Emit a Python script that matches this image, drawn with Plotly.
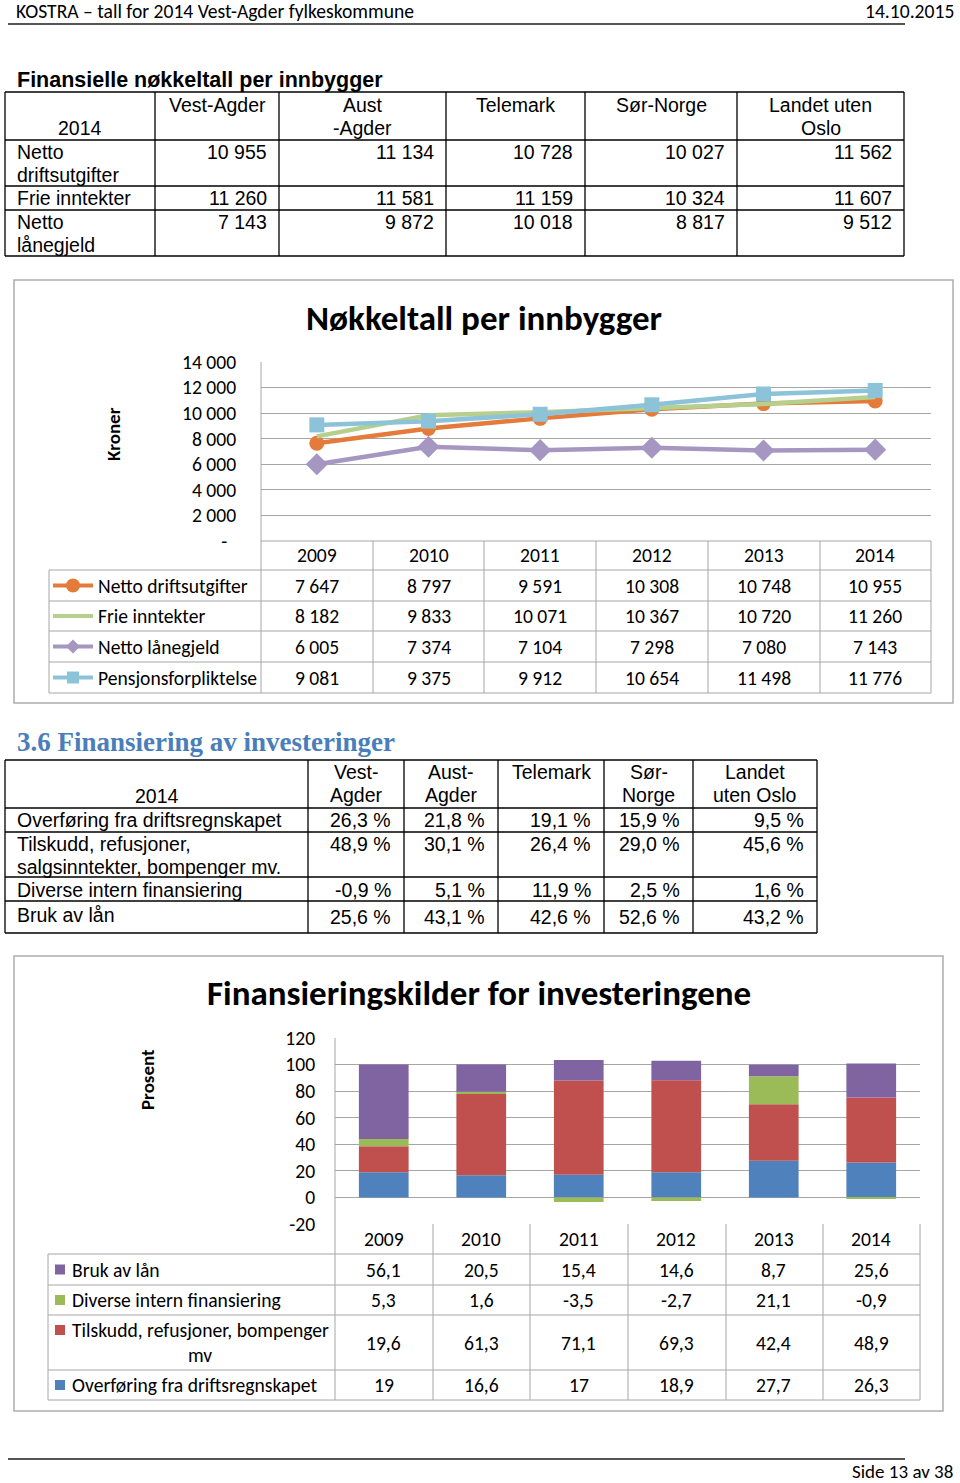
import plotly.graph_objects as go

W, H = 960, 1483

# ---------------- data ----------------
header_left = "KOSTRA – tall for 2014 Vest-Agder fylkeskommune"
header_right = "14.10.2015"
footer_text = "Side 13 av 38"

# Table 1
t1_title = "Finansielle nøkkeltall per innbygger"
t1_corner = "2014"
t1_cols = [["Vest-Agder"], ["Aust", "-Agder"], ["Telemark"], ["Sør-Norge"], ["Landet uten", "Oslo"]]
t1_rows = [["Netto", "driftsutgifter"], ["Frie inntekter"], ["Netto", "lånegjeld"]]
t1_vals = [[10955, 11134, 10728, 10027, 11562],
           [11260, 11581, 11159, 10324, 11607],
           [7143, 9872, 10018, 8817, 9512]]

# Chart 1
years = [2009, 2010, 2011, 2012, 2013, 2014]
c1_title = "Nøkkeltall per innbygger"
c1_ytitle = "Kroner"
netto_drift = [7647, 8797, 9591, 10308, 10748, 10955]
frie_inntekter = [8182, 9833, 10071, 10367, 10720, 11260]
netto_laanegjeld = [6005, 7374, 7104, 7298, 7080, 7143]
pensjon = [9081, 9375, 9912, 10654, 11498, 11776]
c1_names = ["Netto driftsutgifter", "Frie inntekter", "Netto lånegjeld", "Pensjonsforpliktelse"]
c1_ticks = [0, 2000, 4000, 6000, 8000, 10000, 12000, 14000]

# Section + table 2
section_title = "3.6 Finansiering av investeringer"
t2_corner = "2014"
t2_cols = [["Vest-", "Agder"], ["Aust-", "Agder"], ["Telemark"], ["Sør-", "Norge"], ["Landet", "uten Oslo"]]
t2_rows = [["Overføring fra driftsregnskapet"], ["Tilskudd, refusjoner,", "salgsinntekter, bompenger mv."],
           ["Diverse intern finansiering"], ["Bruk av lån"]]
t2_vals = [[26.3, 21.8, 19.1, 15.9, 9.5],
           [48.9, 30.1, 26.4, 29.0, 45.6],
           [-0.9, 5.1, 11.9, 2.5, 1.6],
           [25.6, 43.1, 42.6, 52.6, 43.2]]

# Chart 2
c2_title = "Finansieringskilder for investeringene"
c2_ytitle = "Prosent"
overforing = [19, 16.6, 17, 18.9, 27.7, 26.3]
tilskudd = [19.6, 61.3, 71.1, 69.3, 42.4, 48.9]
diverse = [5.3, 1.6, -3.5, -2.7, 21.1, -0.9]
bruk_av_laan = [56.1, 20.5, 15.4, 14.6, 8.7, 25.6]
c2_names = ["Overføring fra driftsregnskapet", "Tilskudd, refusjoner, bompenger mv",
            "Diverse intern finansiering", "Bruk av lån"]
c2_ticks = [-20, 0, 20, 40, 60, 80, 100, 120]

# ---------------- styling ----------------
CAL = "Carlito, Lato, sans-serif"
ARI = "Liberation Sans, Arial, sans-serif"
SER = "Liberation Serif, DejaVu Serif, serif"
GRID = "#A6A6A6"
c1_colors = ["#E47B3A", "#B6CF8D", "#A597C2", "#8CC3D9"]
c2_colors = ["#4F81BD", "#C0504D", "#9BBB59", "#8064A2"]
FS_C = 19.6   # Calibri-like text
FS_A = 19.5   # Arial-like text


def X(px):
    return px / W


def Y(py):
    return 1 - py / H


shapes = []
ann = []


def hline(x0, x1, y, color="#000000", w=1):
    shapes.append(dict(type="line", xref="paper", yref="paper", x0=X(x0), x1=X(x1),
                       y0=Y(y), y1=Y(y), line=dict(color=color, width=w), layer="above"))


def vline(x, y0, y1, color="#000000", w=1):
    shapes.append(dict(type="line", xref="paper", yref="paper", x0=X(x), x1=X(x),
                       y0=Y(y0), y1=Y(y1), line=dict(color=color, width=w), layer="above"))


def rect(x0, y0, x1, y1, color, fill="rgba(0,0,0,0)", w=1):
    shapes.append(dict(type="rect", xref="paper", yref="paper", x0=X(x0), x1=X(x1),
                       y0=Y(y0), y1=Y(y1), line=dict(color=color, width=w), fillcolor=fill, layer="above"))


def txt(x, y, s, size, family, xanchor="left", color="#000000", weight="normal", xref="paper", angle=0):
    ann.append(dict(text=s, x=(X(x) if xref == "paper" else x), y=Y(y), xref=xref, yref="paper",
                    xanchor=xanchor, yanchor="middle", showarrow=False, textangle=angle,
                    font=dict(size=size, family=family, color=color, weight=weight)))


def fmt_int(v):
    return f"{v:,}".replace(",", " ")


def fmt_pct(v):
    return f"{v:.1f}".replace(".", ",") + " %"


def fmt_dec(v):
    return f"{v:g}".replace(".", ",")


# ---------------- page header/footer ----------------
txt(14, 11, header_left, FS_C, CAL)
txt(956, 11, header_right, FS_C, CAL, xanchor="right")
hline(8, 905, 24, "#555555", 2)
hline(8, 905, 1459, "#555555", 2)
txt(955, 1471, footer_text, 19, CAL, xanchor="right")

# ---------------- table 1 ----------------
txt(15, 80, t1_title, 21.5, ARI, weight="bold")
t1_x = [5, 155, 279, 446, 585, 737, 904]
t1_y = [92, 140, 186, 210, 256]
for yy in t1_y:
    hline(5, 904, yy, "#000000", 1.3)
for xx in t1_x:
    vline(xx, 92, 256, "#000000", 1.3)
txt((t1_x[0] + t1_x[1]) / 2, 128, t1_corner, FS_A, ARI, xanchor="center")
for j, lines in enumerate(t1_cols):
    cx = (t1_x[j + 1] + t1_x[j + 2]) / 2
    for k, line in enumerate(lines):
        txt(cx, 105 + 23 * k, line, FS_A, ARI, xanchor="center")
for i, lines in enumerate(t1_rows):
    top = t1_y[i + 1] + 12
    for k, line in enumerate(lines):
        txt(15, top + 23 * k, line, FS_A, ARI)
    for j, v in enumerate(t1_vals[i]):
        txt(t1_x[j + 2] - 10, top, fmt_int(v), FS_A, ARI, xanchor="right")

# ---------------- chart 1 ----------------
rect(14, 280, 953, 703, "#ADADAD", w=1.5)
txt(484, 318, c1_title, 35, CAL, xanchor="center", weight="bold")
txt(114, 434, c1_ytitle, 19, CAL, xanchor="center", weight="bold", angle=-90)

c1_x = [261, 373, 484, 596, 708, 820, 931]
c1_y = [541, 570, 601, 631, 662, 693]
hline(261, 931, 541, GRID)
for yy in c1_y[1:]:
    hline(49, 931, yy, GRID)
for xx in c1_x:
    vline(xx, 541, 693, GRID)
vline(261, 362, 541, GRID)
vline(49, 570, 693, GRID)

for yr in years:
    txt(yr, 555, str(yr), FS_C, CAL, xanchor="center", xref="x")
series1 = [netto_drift, frie_inntekter, netto_laanegjeld, pensjon]
for i, (name, vals) in enumerate(zip(c1_names, series1)):
    cy = (c1_y[i + 1] + c1_y[i + 2]) / 2
    txt(96, cy, name, FS_C, CAL)
    for yr, v in zip(years, vals):
        txt(yr, cy, fmt_int(v), FS_C, CAL, xanchor="center", xref="x")
    # legend key line
    shapes.append(dict(type="line", xref="paper", yref="paper", x0=X(53), x1=X(93), y0=Y(cy), y1=Y(cy),
                       line=dict(color=c1_colors[i], width=4), layer="above"))

# legend key markers
cy0 = (c1_y[1] + c1_y[2]) / 2
shapes.append(dict(type="circle", xref="paper", yref="paper", x0=X(66), x1=X(80), y0=Y(cy0 - 7), y1=Y(cy0 + 7),
                   fillcolor=c1_colors[0], line=dict(width=0), layer="above"))
cy2 = (c1_y[3] + c1_y[4]) / 2
shapes.append(dict(type="path", xref="paper", yref="paper",
                   path=f"M {X(73)},{Y(cy2 - 7)} L {X(80)},{Y(cy2)} L {X(73)},{Y(cy2 + 7)} L {X(66)},{Y(cy2)} Z",
                   fillcolor=c1_colors[2], line=dict(width=0), layer="above"))
cy3 = (c1_y[4] + c1_y[5]) / 2
shapes.append(dict(type="rect", xref="paper", yref="paper", x0=X(67), x1=X(79), y0=Y(cy3 - 6), y1=Y(cy3 + 6),
                   fillcolor=c1_colors[3], line=dict(width=0), layer="above"))

# ---------------- section + table 2 ----------------
txt(15, 742, section_title, 27, SER, color="#4A7EBB", weight="bold")
t2_x = [5, 308, 404, 498, 604, 693, 817]
t2_y = [760, 808, 832, 877, 901, 933]
for yy in t2_y:
    hline(5, 817, yy, "#000000", 1.3)
for xx in t2_x:
    vline(xx, 760, 933, "#000000", 1.3)
txt((t2_x[0] + t2_x[1]) / 2, 796, t2_corner, FS_A, ARI, xanchor="center")
for j, lines in enumerate(t2_cols):
    cx = (t2_x[j + 1] + t2_x[j + 2]) / 2
    for k, line in enumerate(lines):
        txt(cx, 772 + 23 * k, line, FS_A, ARI, xanchor="center")
t2_row_y = [820, 844, 890, 915]
for i, lines in enumerate(t2_rows):
    for k, line in enumerate(lines):
        txt(15, t2_row_y[i] + 23 * k, line, FS_A, ARI)
    for j, v in enumerate(t2_vals[i]):
        txt(t2_x[j + 2] - 11, t2_row_y[i] + (2 if i == 3 else 0), fmt_pct(v), FS_A, ARI, xanchor="right")

# ---------------- chart 2 ----------------
rect(14, 956, 943, 1411, "#ADADAD", w=1.5)
txt(479, 993, c2_title, 35, CAL, xanchor="center", weight="bold")
txt(147, 1080, c2_ytitle, 19, CAL, xanchor="center", weight="bold", angle=-90)

c2_x = [335, 433, 530, 628, 726, 823, 920]
c2_y = [1224, 1254, 1285, 1315, 1370, 1400]
for yy in c2_y[1:]:
    hline(48, 920, yy, GRID)
for xx in c2_x:
    vline(xx, 1224, 1400, GRID)
vline(335, 1038, 1224, GRID)
vline(48, 1254, 1400, GRID)

for yr in years:
    txt(yr, 1239, str(yr), FS_C, CAL, xanchor="center", xref="x2")

series2 = [overforing, tilskudd, diverse, bruk_av_laan]
table2_order = [3, 2, 1, 0]  # table lists top stack first
for r, si in enumerate(table2_order):
    cy = (c2_y[r + 1] + c2_y[r + 2]) / 2
    ky = 1330 if si == 1 else cy
    shapes.append(dict(type="rect", xref="paper", yref="paper", x0=X(55), x1=X(65), y0=Y(ky - 5), y1=Y(ky + 5),
                       fillcolor=c2_colors[si], line=dict(width=0), layer="above"))
    if si == 1:
        txt(70, 1330, "Tilskudd, refusjoner, bompenger", FS_C, CAL)
        txt(200, 1355, "mv", FS_C, CAL, xanchor="center")
    else:
        txt(70, cy, c2_names[si], FS_C, CAL)
    for yr, v in zip(years, series2[si]):
        txt(yr, cy, fmt_dec(v), FS_C, CAL, xanchor="center", xref="x2")

# ---------------- traces ----------------
fig = go.Figure()
modes = ["lines+markers", "lines", "lines+markers", "lines+markers"]
symbols = ["circle", "circle", "diamond", "square"]
sizes = [15, 1, 17, 15]
for name, vals, col, mode, sym, sz in zip(c1_names, series1, c1_colors, modes, symbols, sizes):
    fig.add_trace(go.Scatter(x=years, y=vals, name=name, mode=mode,
                             line=dict(color=col, width=4.5),
                             marker=dict(symbol=sym, size=sz, color=col),
                             xaxis="x", yaxis="y", showlegend=False))

for name, vals, col in zip(c2_names, series2, c2_colors):
    fig.add_trace(go.Bar(x=years, y=vals, name=name, marker=dict(color=col, line=dict(width=0)),
                         xaxis="x2", yaxis="y2", showlegend=False))

tickfont = dict(size=FS_C, family=CAL, color="#000000")
fig.update_layout(
    width=W, height=H,
    margin=dict(l=0, r=0, t=0, b=0, pad=0, autoexpand=False),
    paper_bgcolor="white", plot_bgcolor="rgba(0,0,0,0)",
    showlegend=False,
    barmode="relative", bargap=0.49,
    shapes=shapes, annotations=ann,
    xaxis=dict(domain=[X(261), X(931)], range=[2008.5, 2014.5], showticklabels=False, automargin=False,
               showgrid=False, zeroline=False, showline=False, anchor="y", fixedrange=True),
    yaxis=dict(domain=[Y(541), Y(362)], range=[0, 14000], tickvals=c1_ticks, automargin=False,
               ticktext=["-\u00a0\u00a0"] + [fmt_int(t) for t in c1_ticks[1:]],
               showgrid=True, gridcolor=GRID, gridwidth=1, zeroline=False, showline=False,
               ticks="outside", ticklen=20, tickcolor="rgba(0,0,0,0)", tickfont=tickfont,
               anchor="x"),
    xaxis2=dict(domain=[X(335), X(920)], range=[2008.5, 2014.5], showticklabels=False, automargin=False,
                showgrid=False, zeroline=False, showline=False, anchor="y2"),
    yaxis2=dict(domain=[Y(1224), Y(1038)], range=[-20, 120], tickvals=c2_ticks, automargin=False,
                ticktext=[str(t) for t in c2_ticks],
                showgrid=True, gridcolor=GRID, gridwidth=1, zeroline=True, zerolinecolor=GRID,
                zerolinewidth=1, showline=False,
                ticks="outside", ticklen=15, tickcolor="rgba(0,0,0,0)", tickfont=tickfont,
                anchor="x2"),
)

fig.write_html("out.html", config={"displayModeBar": False},
               post_script="document.body.style.margin='0';")
